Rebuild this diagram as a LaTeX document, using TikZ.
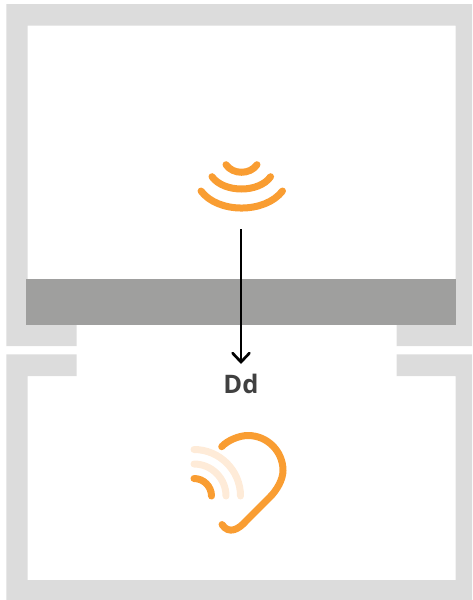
\documentclass[tikz,border=0pt]{standalone}
\usepackage{fontspec}
\setsansfont{Open Sans}
\usetikzlibrary{arrows.meta}

\definecolor{wallgrey}{HTML}{DCDCDC}
\definecolor{slabgrey}{HTML}{9F9F9E}
\definecolor{soundorange}{HTML}{F99D32}
\definecolor{soundpale}{HTML}{FEEBD8}
\definecolor{labelgrey}{HTML}{404040}

\tikzset{
  wall/.style={fill=wallgrey},
  slab/.style={fill=slabgrey},
  wave/.style={line width=7, line cap=round, draw=soundorange},
  path label/.style={font=\sffamily\bfseries\fontsize{25.5}{25.5}\selectfont, text=labelgrey, inner sep=0}
}

\begin{document}
\begin{tikzpicture}[x=1pt, y=-1pt]
  \useasboundingbox (0, 0) rectangle (472, 600);

  % rooms
  \fill[wall]
  (6.3, 346) -- (6.3, 4) -- (472, 4) -- (472, 346) -- (396.7, 346) -- (396.7, 325)
  -- (455.5, 325) -- (455.5, 25.5) -- (27.7, 25.5) -- (27.7, 325) -- (76.7, 325) -- (76.7, 346) -- cycle;
  \fill[wall]
  (6.3, 354.3) -- (76.7, 354.3) -- (76.7, 376) -- (27.7, 376) -- (27.7, 580) -- (455.5, 580)
  -- (455.5, 376) -- (396.7, 376) -- (396.7, 354.3) -- (472, 354.3) -- (472, 600) -- (6.3, 600) -- cycle;
  \fill[slab] (26, 279) rectangle (456, 325);

  % source
  \draw[wave] (201, 191) .. controls (218, 213.7) and (265, 213.7) .. (282.5, 191);
  \draw[wave] (212, 176.7) .. controls (224, 193.1) and (259, 193.1) .. (270.6, 176.7);
  \draw[wave] (226, 164.7) .. controls (233, 174.8) and (250, 174.8) .. (257, 164.7);

  % receiver
  \draw[wave]
  (221.7, 446.7) .. controls (227.5, 440.3) and (239.3, 435.5) .. (248, 435.5)
  .. controls (267.3, 435.5) and (283, 451.2) .. (283, 470.5)
  .. controls (283, 479.8) and (276.6, 490.4) .. (270, 497)
  -- (246, 521)
  .. controls (239, 529) and (229, 535) .. (222, 524.5);
  \foreach \r/\c in {46.5/soundpale, 32/soundpale, 17.5/soundorange}
  {
      \draw[wave, draw=\c]
      (194, {496-\r}) .. controls ({194+0.55*\r}, {496-\r}) and ({194+\r}, {496-0.55*\r}) .. ({194+\r}, 496);
  }

  \coordinate (source) at (241, 229);
  \coordinate (receiver) at (241, 364);
  \draw[line width=2.7, -{Straight Barb[length=9pt, width=17pt, line cap=round]}] (source) -- (receiver);
  \node[path label] (flanking) at (241, 384) {Dd};
\end{tikzpicture}
\end{document}
